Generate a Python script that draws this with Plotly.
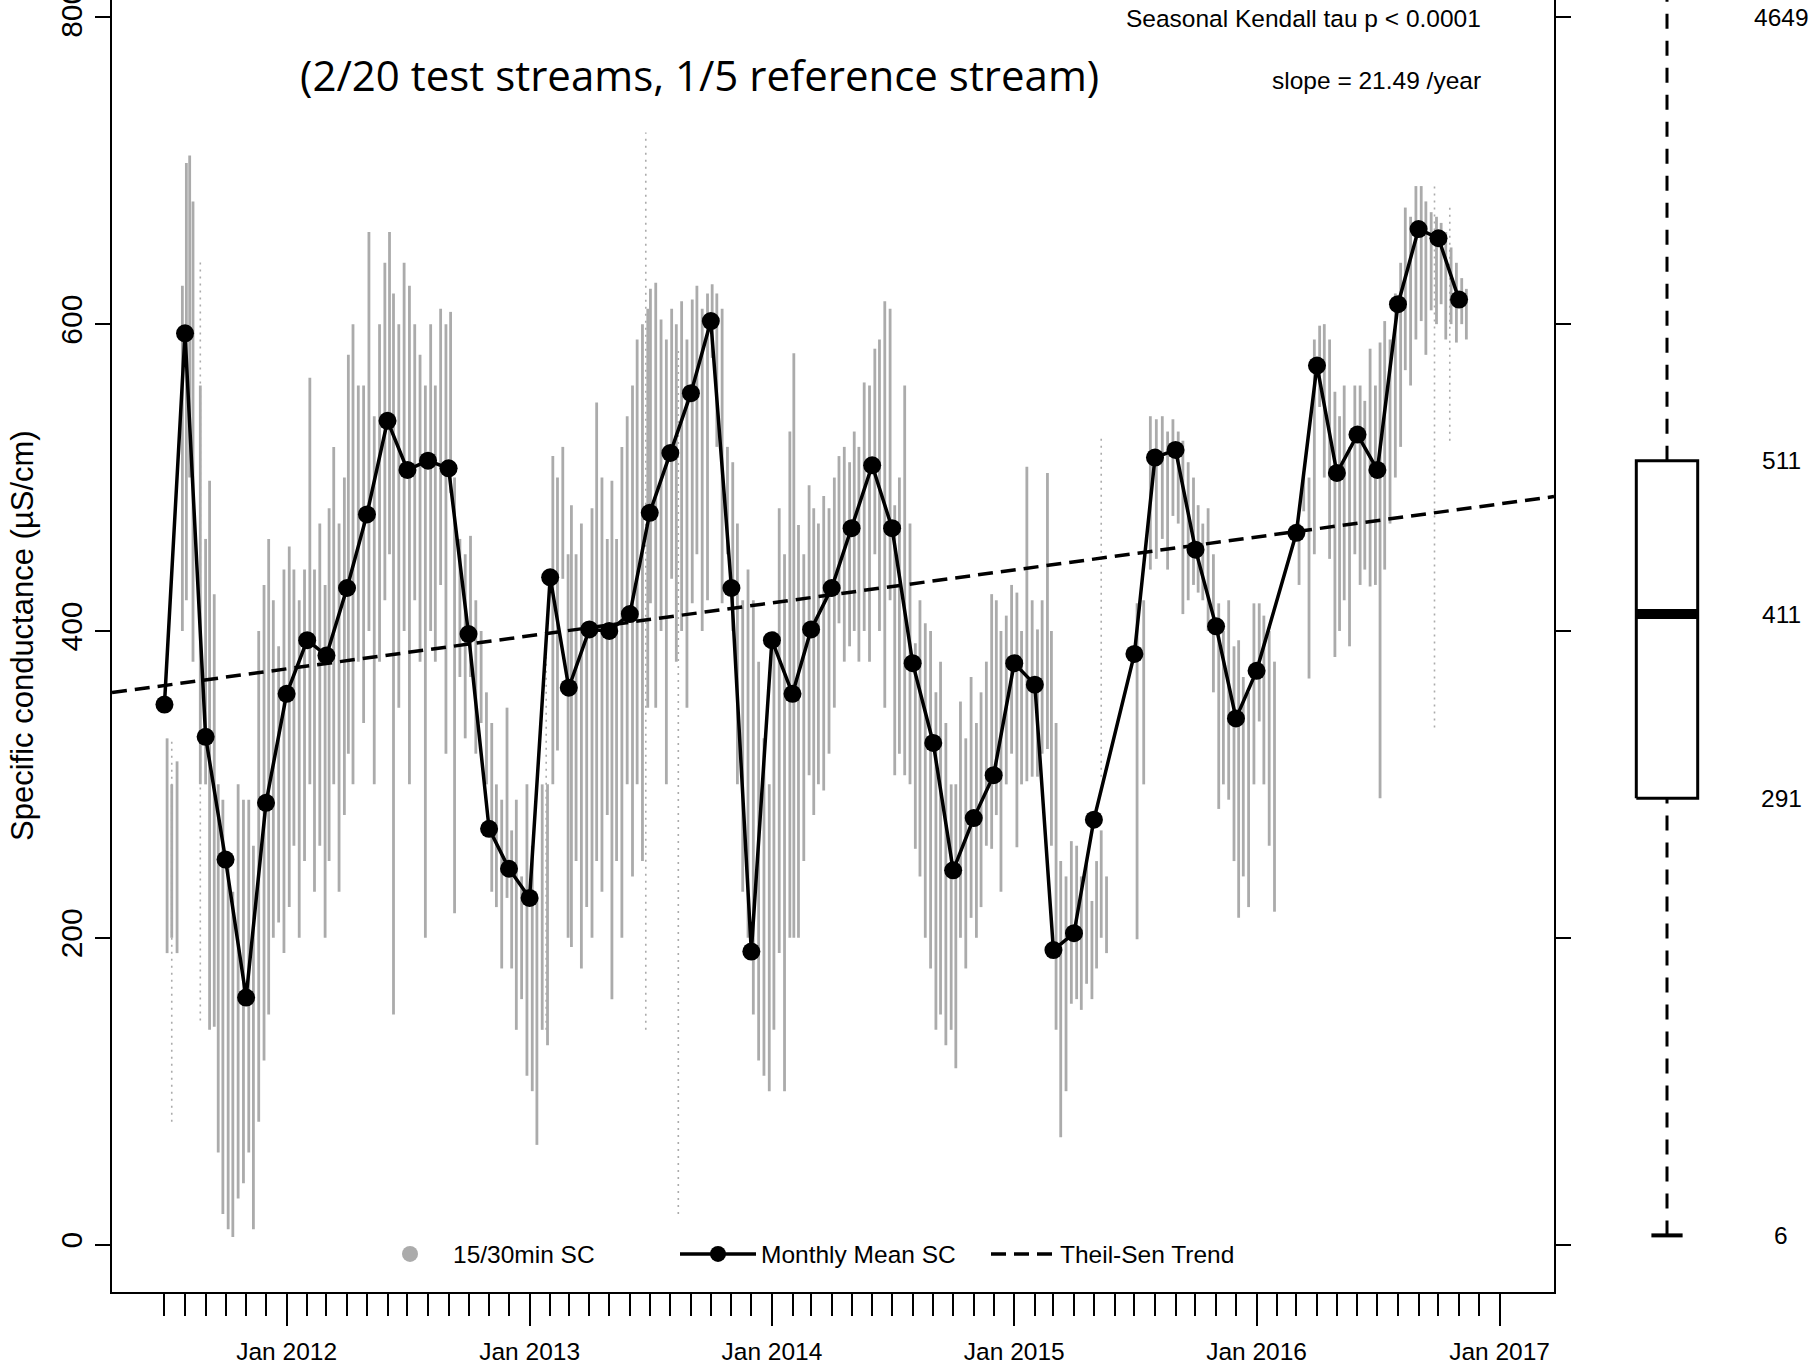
import pandas as pd
import plotly.graph_objects as go

# ---------------------------------------------------------------------------
# Monthly mean specific conductance (uS/cm), plotted on the first of the month
# ---------------------------------------------------------------------------
MONTH_DATES = [
    "2011-07-01", "2011-08-01", "2011-09-01", "2011-10-01", "2011-11-01", "2011-12-01",
    "2012-01-01", "2012-02-01", "2012-03-01", "2012-04-01", "2012-05-01", "2012-06-01",
    "2012-07-01", "2012-08-01", "2012-09-01", "2012-10-01", "2012-11-01", "2012-12-01",
    "2013-01-01", "2013-02-01", "2013-03-01", "2013-04-01", "2013-05-01", "2013-06-01",
    "2013-07-01", "2013-08-01", "2013-09-01", "2013-10-01", "2013-11-01", "2013-12-01",
    "2014-01-01", "2014-02-01", "2014-03-01", "2014-04-01", "2014-05-01", "2014-06-01",
    "2014-07-01", "2014-08-01", "2014-09-01", "2014-10-01", "2014-11-01", "2014-12-01",
    "2015-01-01", "2015-02-01", "2015-03-01", "2015-04-01", "2015-05-01",
    "2015-07-01", "2015-08-01", "2015-09-01", "2015-10-01", "2015-11-01", "2015-12-01",
    "2016-01-01", "2016-03-01", "2016-04-01", "2016-05-01", "2016-06-01",
    "2016-07-01", "2016-08-01", "2016-09-01", "2016-10-01", "2016-11-01",
]
MONTH_MEANS = [
    352, 594, 331, 251, 161, 288,
    359, 394, 384, 428, 476, 537,
    505, 511, 506, 398, 271, 245,
    226, 435, 363, 401, 400, 411,
    477, 516, 555, 602, 428, 191,
    394, 359, 401, 428, 467, 508,
    467, 379, 327, 244, 278, 306,
    379, 365, 192, 203, 277,
    385, 513, 518, 453, 403, 343,
    374, 464, 573, 503, 528,
    505, 613, 662, 656, 616,
]

# ---------------------------------------------------------------------------
# 15/30-min record, summarised as vertical streaks (date, low, high)
# ---------------------------------------------------------------------------
SC_DATES = [
    # 2011
    "2011-07-05", "2011-07-12", "2011-07-20", "2011-07-28", "2011-08-03", "2011-08-08", "2011-08-13", "2011-08-24",
    "2011-09-01", "2011-09-07", "2011-09-14", "2011-09-20", "2011-09-27", "2011-10-05", "2011-10-12", "2011-10-20",
    "2011-10-28", "2011-11-05", "2011-11-12", "2011-11-20", "2011-11-28", "2011-12-05", "2011-12-12", "2011-12-20",
    "2011-12-28",
    # 2012
    "2012-01-05", "2012-01-12", "2012-01-20", "2012-01-28", "2012-02-05", "2012-02-12", "2012-02-20", "2012-02-28",
    "2012-03-05", "2012-03-12", "2012-03-20", "2012-03-28", "2012-04-03", "2012-04-10", "2012-04-18", "2012-04-26",
    "2012-05-04", "2012-05-12", "2012-05-20", "2012-05-28", "2012-06-04", "2012-06-10", "2012-06-18", "2012-06-26",
    "2012-07-04", "2012-07-12", "2012-07-20", "2012-07-28", "2012-08-05", "2012-08-12", "2012-08-20", "2012-08-28",
    "2012-09-04", "2012-09-10", "2012-09-18", "2012-09-26", "2012-10-04", "2012-10-12", "2012-10-20", "2012-10-28",
    "2012-11-05", "2012-11-12", "2012-11-20", "2012-11-28", "2012-12-05", "2012-12-12", "2012-12-20", "2012-12-28",
    # 2013
    "2013-01-05", "2013-01-12", "2013-01-20", "2013-01-28", "2013-02-05", "2013-02-12", "2013-02-20", "2013-02-28",
    "2013-03-05", "2013-03-12", "2013-03-20", "2013-03-28", "2013-04-05", "2013-04-12", "2013-04-20", "2013-04-28",
    "2013-05-05", "2013-05-12", "2013-05-20", "2013-05-28", "2013-06-05", "2013-06-12", "2013-06-20", "2013-06-28",
    "2013-07-02", "2013-07-10", "2013-07-18", "2013-07-26", "2013-08-03", "2013-08-10", "2013-08-18", "2013-08-26",
    "2013-09-03", "2013-09-10", "2013-09-18", "2013-09-26", "2013-10-03", "2013-10-10", "2013-10-18", "2013-10-26",
    "2013-11-03", "2013-11-10", "2013-11-18", "2013-11-26", "2013-12-04", "2013-12-12", "2013-12-20", "2013-12-28",
    # 2014
    "2014-01-04", "2014-01-12", "2014-01-20", "2014-01-28", "2014-02-03", "2014-02-10", "2014-02-18", "2014-02-26",
    "2014-03-05", "2014-03-12", "2014-03-20", "2014-03-28", "2014-04-05", "2014-04-12", "2014-04-20", "2014-04-28",
    "2014-05-05", "2014-05-12", "2014-05-20", "2014-05-28", "2014-06-05", "2014-06-12", "2014-06-20", "2014-06-28",
    "2014-07-05", "2014-07-12", "2014-07-20", "2014-07-28", "2014-08-05", "2014-08-12", "2014-08-20", "2014-08-28",
    "2014-09-05", "2014-09-12", "2014-09-20", "2014-09-28", "2014-10-05", "2014-10-12", "2014-10-20", "2014-10-28",
    "2014-11-05", "2014-11-12", "2014-11-20", "2014-11-28", "2014-12-05", "2014-12-12", "2014-12-20", "2014-12-28",
    # 2015
    "2015-01-05", "2015-01-12", "2015-01-20", "2015-01-28", "2015-02-05", "2015-02-12", "2015-02-20", "2015-02-26",
    "2015-03-05", "2015-03-12", "2015-03-20", "2015-03-28", "2015-04-05", "2015-04-12", "2015-04-20", "2015-04-28",
    "2015-05-05", "2015-05-12", "2015-05-20", "2015-07-05", "2015-07-15", "2015-07-25",
    "2015-08-03", "2015-08-12", "2015-08-20", "2015-08-28", "2015-09-05", "2015-09-12", "2015-09-20", "2015-09-28",
    "2015-10-05", "2015-10-12", "2015-10-20", "2015-10-28", "2015-11-05", "2015-11-12", "2015-11-20", "2015-11-28",
    "2015-12-05", "2015-12-12", "2015-12-20", "2015-12-28",
    # 2016
    "2016-01-05", "2016-01-12", "2016-01-20", "2016-01-28", "2016-03-05", "2016-03-12", "2016-03-20", "2016-03-28",
    "2016-04-05", "2016-04-12", "2016-04-20", "2016-04-28", "2016-05-05", "2016-05-12", "2016-05-20", "2016-05-28",
    "2016-06-05", "2016-06-12", "2016-06-20", "2016-06-28", "2016-07-05", "2016-07-12", "2016-07-20", "2016-07-28",
    "2016-08-05", "2016-08-12", "2016-08-20", "2016-08-28", "2016-09-05", "2016-09-12", "2016-09-20", "2016-09-28",
    "2016-10-05", "2016-10-12", "2016-10-20", "2016-10-28", "2016-11-05", "2016-11-12",
]
SC_LOW = [
    # 2011
    190, 200, 190, 400, 420, 500, 380, 300, 300, 140, 142, 60, 20, 10, 5, 30,
    40, 60, 10, 80, 120, 150, 200, 210, 190,
    # 2012
    220, 260, 200, 250, 300, 230, 260, 200, 250, 300, 230, 280, 320, 300, 380, 340,
    400, 300, 380, 420, 450, 150, 350, 400, 300, 420, 380, 200, 400, 380, 430, 320,
    490, 216, 370, 330, 370, 320, 340, 300, 230, 220, 180, 226, 180, 140, 160, 110,
    # 2013
    100, 65, 140, 130, 300, 322, 434, 200, 194, 250, 180, 220, 200, 250, 230, 280,
    160, 250, 200, 300, 240, 300, 250, 350, 418, 350, 400, 300, 434, 380, 400, 350,
    418, 450, 400, 420, 578, 520, 418, 450, 400, 300, 230, 200, 150, 120, 110, 100,
    # 2014
    140, 190, 100, 200, 200, 200, 250, 306, 280, 300, 296, 320, 350, 405, 380, 390,
    400, 380, 400, 380, 450, 400, 350, 420, 306, 320, 306, 300, 258, 240, 200, 180,
    140, 150, 130, 140, 115, 200, 180, 213, 200, 220, 260, 258, 280, 230, 300, 320,
    # 2015
    259, 300, 302, 305, 305, 320, 323, 260, 140, 70, 100, 157, 160, 153, 170, 160,
    180, 200, 190, 199, 300, 440,
    447, 460, 440, 475, 470, 411, 420, 430, 425, 420, 400, 360, 284, 300, 290, 250,
    213, 240, 220, 300,
    # 2016
    341, 300, 260, 217, 430, 478, 369, 450, 546, 500, 447, 383, 400, 420, 390, 450,
    430, 440, 429, 430, 291, 440, 470, 500, 520, 570, 560, 590, 602, 580, 609, 600,
    613, 590, 600, 588, 600, 590,
]
SC_HIGH = [
    # 2011
    330, 300, 315, 625, 705, 710, 680, 560, 460, 498, 424, 300, 290, 250, 230, 300,
    290, 290, 260, 400, 430, 460, 420, 390, 440,
    # 2012
    455, 440, 420, 440, 565, 440, 470, 430, 480, 520, 470, 500, 580, 600, 560, 560,
    660, 540, 600, 640, 660, 620, 600, 640, 625, 600, 580, 560, 600, 560, 610, 600,
    608, 500, 460, 450, 462, 420, 400, 360, 340, 300, 290, 350, 270, 290, 240, 300,
    # 2013
    260, 226, 300, 300, 514, 500, 520, 450, 482, 450, 470, 400, 480, 549, 500, 460,
    498, 460, 520, 540, 560, 590, 600, 610, 623, 627, 603, 590, 610, 600, 615, 590,
    616, 625, 610, 620, 626, 620, 610, 520, 510, 470, 420, 440, 420, 380, 330, 300,
    # 2014
    400, 480, 450, 530, 581, 469, 450, 495, 480, 470, 488, 480, 500, 514, 520, 510,
    530, 520, 562, 560, 584, 590, 615, 610, 482, 500, 560, 470, 392, 420, 405, 400,
    360, 380, 340, 300, 300, 354, 330, 370, 340, 360, 380, 424, 420, 400, 410, 430,
    # 2015
    425, 400, 507, 420, 401, 420, 503, 400, 340, 250, 240, 263, 260, 240, 250, 224,
    250, 270, 240, 418, 420, 540,
    538, 540, 530, 538, 530, 524, 510, 500, 482, 470, 480, 450, 418, 400, 420, 390,
    394, 370, 360, 418,
    # 2016
    418, 410, 400, 380, 470, 503, 500, 590, 599, 600, 590, 556, 540, 560, 520, 560,
    560, 550, 584, 560, 588, 602, 590, 620, 640, 676, 670, 690, 690, 680, 673, 670,
    666, 660, 650, 640, 630, 623,
]

# Thin, sparsely sampled columns of readings
SPARSE_DATES = ["2011-07-12", "2011-08-24", "2013-01-26", "2013-06-25",
                "2013-08-13", "2015-05-12", "2016-09-25", "2016-10-18"]
SPARSE_LOW = [80, 146, 140, 140, 20, 305, 337, 524]
SPARSE_HIGH = [330, 642, 386, 725, 585, 528, 690, 678]

# Theil-Sen trend and Seasonal Kendall result
SLOPE_PER_YEAR = 21.49
TREND_ORIGIN = "2012-01-01"
TREND_AT_ORIGIN = 375.3
KENDALL_P_TEXT = "p < 0.0001"

# Whole-record box plot: min, Q1, median, Q3, max
BOX_STATS = [6, 291, 411, 511, 4649]

# Axis ticks
YEAR_TICKS = ["2012-01-01", "2013-01-01", "2014-01-01", "2015-01-01", "2016-01-01", "2017-01-01"]
YEAR_LABELS = ["Jan 2012", "Jan 2013", "Jan 2014", "Jan 2015", "Jan 2016", "Jan 2017"]
Y_TICKS = [0, 200, 400, 600, 800]

# ---------------------------------------------------------------------------
X_START, X_END = "2011-04-13", "2017-03-24"
Y_MIN, Y_MAX = -30.9, 811.3

GRAY = "#ababab"
NARROW = "Liberation Sans Narrow, Arial Narrow, Liberation Sans, Arial, sans-serif"
REGULAR = "Liberation Sans, Arial, sans-serif"
TEXT_SIZE = 24.5

PAGE_W, PAGE_H = 1812, 1371
M_LEFT, M_BOTTOM = 112, 79
PLOT_W = PAGE_W - M_LEFT
PLOT_H = PAGE_H - M_BOTTOM
MAIN_RIGHT_PX = 1554
BOX_AXIS_LEFT_PX = 1580

# box-plot geometry in the side panel (x2 units are pixels)
BOX_CENTER, BOX_HALF, CAP_HALF, LABEL_X = 87.0, 30.7, 15.6, 201


def streak_xy(dates, lows, highs):
    xs, ys = [], []
    for d, lo, hi in zip(dates, lows, highs):
        xs += [d, d, None]
        ys += [lo, hi, None]
    return xs, ys


fig = go.Figure()

# high-frequency record
sx, sy = streak_xy(SC_DATES, SC_LOW, SC_HIGH)
fig.add_trace(go.Scatter(x=sx, y=sy, mode="lines", line=dict(color=GRAY, width=2.8),
                         showlegend=False, hoverinfo="skip", legendgroup="sc"))
px_, py_ = streak_xy(SPARSE_DATES, SPARSE_LOW, SPARSE_HIGH)
fig.add_trace(go.Scatter(x=px_, y=py_, mode="lines", line=dict(color=GRAY, width=1.6, dash="2px,5px"),
                         showlegend=False, hoverinfo="skip", legendgroup="sc"))
fig.add_trace(go.Scatter(x=[None], y=[None], mode="markers", name="15/30min SC",
                         marker=dict(color=GRAY, size=16), legendgroup="sc", legend="legend"))

# Theil-Sen trend across the full x range
t0 = pd.Timestamp(TREND_ORIGIN)
trend_x = [pd.Timestamp(X_START), pd.Timestamp(X_END)]
trend_y = [TREND_AT_ORIGIN + SLOPE_PER_YEAR * (t - t0).days / 365.25 for t in trend_x]
fig.add_trace(go.Scatter(x=trend_x, y=trend_y, mode="lines", name="Theil-Sen Trend",
                         line=dict(color="black", width=3.5, dash="15px,8px"), legend="legend3"))

# monthly means
fig.add_trace(go.Scatter(x=MONTH_DATES, y=MONTH_MEANS, mode="lines+markers", name="Monthly Mean SC",
                         line=dict(color="black", width=3.5),
                         marker=dict(color="black", size=18), legend="legend2"))

# box plot of the whole record on the side panel
lo, q1, med, q3, hi = BOX_STATS
c, h, ch = BOX_CENTER, BOX_HALF, CAP_HALF
box_kw = dict(xaxis="x2", yaxis="y2", mode="lines", showlegend=False, hoverinfo="skip")
fig.add_trace(go.Scatter(x=[c, c], y=[q3, hi], line=dict(color="black", width=3, dash="15px,12px"), **box_kw))
fig.add_trace(go.Scatter(x=[c, c], y=[lo, q1], line=dict(color="black", width=3, dash="15px,12px"), **box_kw))
fig.add_trace(go.Scatter(x=[c - ch, c + ch], y=[lo, lo], line=dict(color="black", width=4), **box_kw))
fig.add_trace(go.Scatter(x=[c - h, c + h, c + h, c - h, c - h], y=[q1, q1, q3, q3, q1],
                         line=dict(color="black", width=3), **box_kw))
fig.add_trace(go.Scatter(x=[c - h, c + h], y=[med, med], line=dict(color="black", width=10), **box_kw))

for v in BOX_STATS:
    fig.add_annotation(x=LABEL_X, y=min(v, Y_TICKS[-1]), xref="x2", yref="y2", text=str(v),
                       showarrow=False, yanchor="middle",
                       font=dict(family=NARROW, size=TEXT_SIZE, color="black"))

minor_ticks = pd.date_range("2011-07-01", "2016-12-01", freq="MS").strftime("%Y-%m-%d").tolist()


def paper_x(px):
    return (px - M_LEFT) / PLOT_W


def paper_y(py):
    return 1 - py / PLOT_H


fig.add_annotation(text="(2/20 test streams, 1/5 reference stream)", xref="paper", yref="paper",
                   x=paper_x(699), y=paper_y(74), xanchor="center", yanchor="middle", showarrow=False,
                   font=dict(family="Open Sans, Noto Sans, sans-serif", size=42, color="black"))
fig.add_annotation(text=f"Seasonal Kendall tau {KENDALL_P_TEXT}", xref="paper", yref="paper",
                   x=paper_x(1483), y=paper_y(19), xanchor="right", yanchor="middle", showarrow=False,
                   font=dict(family=NARROW, size=TEXT_SIZE, color="black"))
fig.add_annotation(text=f"slope = {SLOPE_PER_YEAR:.2f} /year", xref="paper", yref="paper",
                   x=paper_x(1483), y=paper_y(80), xanchor="right", yanchor="middle", showarrow=False,
                   font=dict(family=NARROW, size=TEXT_SIZE, color="black"))
# y-axis title, placed as rotated text beside the tick labels
fig.add_annotation(text="Specific conductance (µS/cm)", xref="paper", yref="paper",
                   x=paper_x(22), y=paper_y(636), xanchor="center", yanchor="middle",
                   textangle=-90, showarrow=False,
                   font=dict(family=REGULAR, size=31, color="black"))

legend_common = dict(yanchor="middle", xanchor="left", y=paper_y(1254), orientation="h",
                     bgcolor="rgba(0,0,0,0)", borderwidth=0,
                     font=dict(family=NARROW, size=TEXT_SIZE, color="black"))

fig.update_layout(
    width=PAGE_W, height=PAGE_H, autosize=False,
    margin=dict(l=M_LEFT, r=0, t=0, b=M_BOTTOM, pad=0),
    paper_bgcolor="white", plot_bgcolor="white",
    xaxis=dict(
        type="date", range=[X_START, X_END], domain=[0, paper_x(MAIN_RIGHT_PX)],
        automargin=False,
        showline=True, linecolor="black", linewidth=2, mirror=False,
        showgrid=False, zeroline=False,
        tickmode="array", tickvals=YEAR_TICKS, ticktext=YEAR_LABELS,
        ticks="outside", ticklen=32, tickwidth=2, tickcolor="black",
        ticklabelstandoff=5,
        tickfont=dict(family=NARROW, size=TEXT_SIZE, color="black"),
        minor=dict(tickmode="array", tickvals=minor_ticks, ticks="outside",
                   ticklen=22, tickwidth=2, tickcolor="black", showgrid=False),
    ),
    yaxis=dict(
        range=[Y_MIN, Y_MAX], tickmode="array", tickvals=Y_TICKS,
        automargin=False, ticklabeloverflow="allow",
        ticks="outside", ticklen=15, tickwidth=2, tickcolor="black",
        showline=True, mirror="ticks", linecolor="black", linewidth=2,
        showgrid=False, zeroline=False, tickangle=-90, ticklabelstandoff=1,
        tickfont=dict(family=REGULAR, size=30, color="black"),
    ),
    xaxis2=dict(domain=[paper_x(BOX_AXIS_LEFT_PX), 1], range=[0, PAGE_W - BOX_AXIS_LEFT_PX],
                visible=False, anchor="y2", automargin=False),
    yaxis2=dict(matches="y", anchor="x2", visible=False, automargin=False),
    legend=dict(x=paper_x(367), itemwidth=76, **legend_common),
    legend2=dict(x=paper_x(675), itemwidth=76, **legend_common),
    legend3=dict(x=paper_x(986), itemwidth=64, **legend_common),
)

fig.write_html("out.html", config={"displayModeBar": False})
